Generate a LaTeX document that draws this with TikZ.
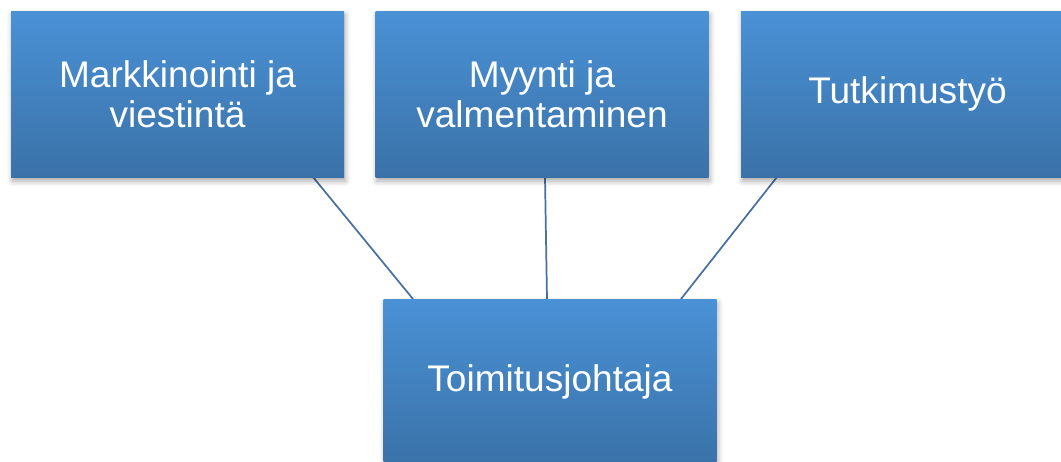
\documentclass[tikz,border=0pt]{standalone}
\usepackage{fontspec}
\setmainfont{Liberation Sans}
\usetikzlibrary{shadows.blur}
\definecolor{boxtop}{RGB}{74,145,214}
\definecolor{boxbottom}{RGB}{58,114,168}
\definecolor{linkcol}{RGB}{72,112,162}
\begin{document}
\begin{tikzpicture}[x=0.75pt,y=-0.75pt,
  orgbox/.style={rectangle, minimum width=249.75pt, minimum height=124.5pt,
    top color=boxtop, bottom color=boxbottom, draw=none,
    text=white, align=center, font=\fontsize{27.8}{30}\selectfont,
    blur shadow={shadow xshift=1pt, shadow yshift=-3pt, shadow blur radius=4pt, shadow opacity=35}},
  link/.style={draw=linkcol, line width=1.3pt}]
\useasboundingbox (0,0) rectangle (1061,461);
% connector anchor points on the box edges
\coordinate (l1) at (313,177);
\coordinate (l2) at (413,299);
\coordinate (m1) at (545,177);
\coordinate (m2) at (547,299);
\coordinate (r1) at (777,177);
\coordinate (r2) at (681,299);
\draw[link] (l1) -- (l2);
\draw[link] (m1) -- (m2);
\draw[link] (r1) -- (r2);
\node[orgbox] (mark) at (177.5,94) {Markkinointi ja\\viestintä};
\node[orgbox] (myyn) at (542,94) {Myynti ja\\valmentaminen};
\node[orgbox] (tutk) at (907.5,94) {Tutkimustyö};
\node[orgbox] (toim) at (550,382) {Toimitusjohtaja};
\end{tikzpicture}
\end{document}
